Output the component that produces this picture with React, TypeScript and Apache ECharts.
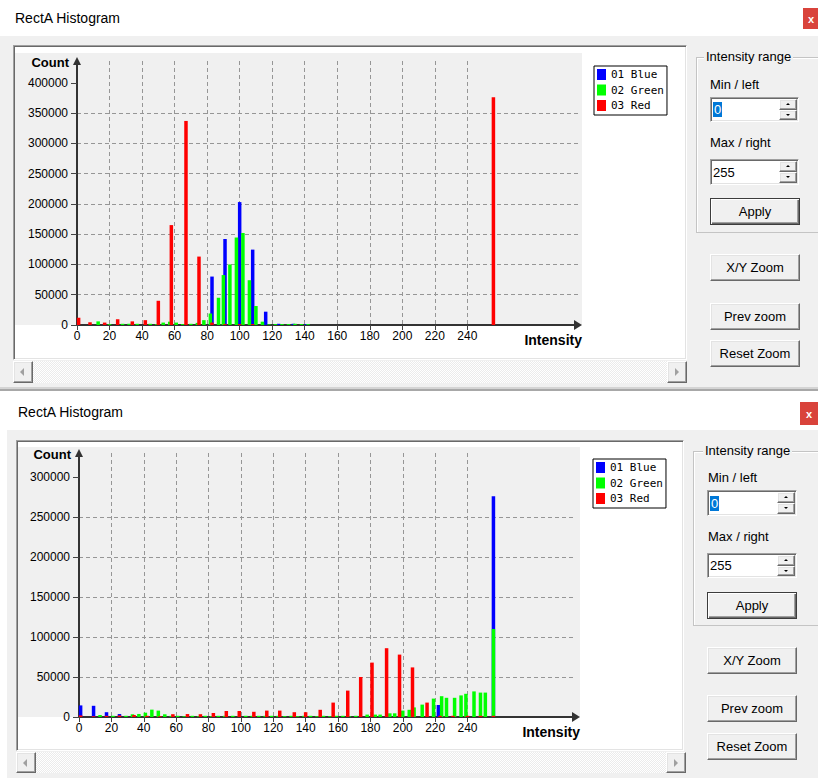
import React, { useEffect, useRef } from "react";
import * as echarts from "echarts";

// ---------------- data ----------------
const intensityTicks = [0, 20, 40, 60, 80, 100, 120, 140, 160, 180, 200, 220, 240];
const countTicksUpper = [0, 50000, 100000, 150000, 200000, 250000, 300000, 350000, 400000];
const countTicksLower = [0, 50000, 100000, 150000, 200000, 250000, 300000];
const channelNames = ["01 Blue", "02 Green", "03 Red"];
const channelColors = ["#0000ff", "#00ff00", "#ff0000"];
const windowTitle = "RectA Histogram";
const xAxisTitle = "Intensity";
const yAxisTitle = "Count";

// upper histogram: [intensity, count]
const upperBlue = [[83, 80000], [91, 142000], [100, 203000], [108, 124500], [116, 22000], [124, 2000], [133, 2000], [141, 1500]];
const upperGreen = [[13, 6000], [20, 1500], [28, 2000], [32, 2000], [37, 2000], [45, 2000], [49, 1500], [53, 4000], [57, 5500], [61, 4000], [65, 1500], [70, 2000], [74, 3500], [78, 8000], [82, 19000], [87, 45000], [90, 82500], [94, 100000], [98, 144500], [102, 152000], [106, 74000], [110, 31500], [114, 5500], [118, 1000], [122, 1500], [126, 1500], [130, 1500], [134, 2000], [138, 1500], [142, 1500]];
const upperRed = [[1, 12000], [8, 4500], [17, 4000], [25, 9500], [34, 6000], [42, 8000], [50, 40000], [58, 165000], [67, 337000], [75, 113000], [83, 4000], [91, 1500], [100, 1500], [108, 1500], [256, 376000]];

// lower histogram
const lowerBlue = [[1, 14500], [9, 14000], [17, 6000], [25, 3700], [222, 15000], [256, 276000]];
const lowerGreen = [[13, 2500], [21, 1500], [29, 1500], [33, 3400], [37, 3800], [41, 5400], [45, 9200], [49, 8000], [53, 3400], [57, 1500], [61, 1500], [65, 1000], [70, 1500], [74, 1000], [78, 1500], [82, 1000], [86, 1500], [90, 1500], [95, 1500], [99, 1000], [103, 1500], [107, 1500], [111, 1500], [115, 1500], [119, 1500], [123, 1500], [127, 1000], [131, 1500], [135, 1000], [139, 1500], [143, 1500], [147, 1000], [151, 1500], [155, 1000], [159, 1500], [163, 1500], [167, 1000], [171, 1500], [178, 3000], [183, 3000], [186, 3000], [192, 4600], [195, 4600], [200, 8000], [204, 9000], [207, 12000], [212, 15500], [219, 23000], [224, 26000], [227, 24000], [232, 24000], [236, 27000], [239, 29000], [244, 32000], [248, 30500], [251, 30500], [256, 110000]];
const lowerRed = [[1, 2000], [9, 1000], [17, 1500], [25, 2000], [34, 2500], [42, 1500], [50, 1000], [58, 3500], [67, 3700], [75, 3500], [83, 5000], [91, 7500], [99, 7500], [108, 6500], [116, 8000], [124, 8000], [133, 6000], [140, 6000], [149, 9000], [157, 18000], [166, 33000], [174, 50000], [181, 68000], [190, 86000], [198, 78000], [206, 62000], [215, 18000], [223, 1500], [231, 1500], [240, 1500], [248, 1500], [256, 1500]];

// UI texts
const groupTitle = "Intensity range";
const minLabel = "Min / left";
const maxLabel = "Max / right";
const minValue = "0";
const maxValue = "255";
const buttonLabels = ["Apply", "X/Y Zoom", "Prev zoom", "Reset Zoom"];

// ---------------- layout ----------------
const uiFont = "'Liberation Sans', Arial, sans-serif";

const upperWin = {
  top: 0, left: 0, bodyTop: 36, bottom: 387,
  titleX: 15, titleCy: 18,
  close: { x: 803, y: 8, w: 16, h: 21 },
  frame: { x: 13, y: 45, w: 674, h: 315 },
  plot: { x: 15, y: 53, w: 567, h: 272 },
  scroll: { x: 13, y: 361, w: 674, h: 22 },
  group: { x: 696, y: 57, w: 140, h: 176, titleX: 706 },
  minLabel: { x: 710, cy: 85 },
  minEdit: { x: 710, y: 97, w: 89, h: 25 },
  maxLabel: { x: 710, cy: 143 },
  maxEdit: { x: 710, y: 159, w: 89, h: 26 },
  buttons: [
    { x: 710, y: 198, w: 90, h: 27 },
    { x: 710, y: 254, w: 90, h: 27 },
    { x: 710, y: 303, w: 90, h: 27 },
    { x: 710, y: 340, w: 90, h: 27 },
  ],
};
const lowerWin = {
  top: 393, left: 7, bodyTop: 430, bottom: 778,
  titleX: 18, titleCy: 412,
  close: { x: 800, y: 402, w: 18, h: 23 },
  frame: { x: 16, y: 440, w: 668, h: 311 },
  plot: { x: 18, y: 447, w: 562, h: 270 },
  scroll: { x: 16, y: 752, w: 670, h: 21 },
  group: { x: 693, y: 451, w: 140, h: 175, titleX: 705 },
  minLabel: { x: 708, cy: 478 },
  minEdit: { x: 707, y: 490, w: 90, h: 26 },
  maxLabel: { x: 708, cy: 537 },
  maxEdit: { x: 707, y: 553, w: 90, h: 25 },
  buttons: [
    { x: 707, y: 592, w: 90, h: 27 },
    { x: 707, y: 647, w: 90, h: 27 },
    { x: 707, y: 695, w: 90, h: 27 },
    { x: 707, y: 733, w: 90, h: 27 },
  ],
};

const abs = (l: number, t: number, w: number | string, h: number | string, extra: any = {}): any => ({
  position: "absolute", left: l, top: t, width: w, height: h, boxSizing: "border-box", ...extra,
});

const raised = {
  background: "#f0f0f0",
  borderTop: "1px solid #ffffff", borderLeft: "1px solid #ffffff",
  borderRight: "1px solid #696969", borderBottom: "1px solid #696969",
  boxShadow: "inset -1px -1px 0 #a0a0a0, inset 1px 1px 0 #e3e3e3",
};
const sunken = {
  background: "#ffffff",
  borderTop: "1px solid #a0a0a0", borderLeft: "1px solid #a0a0a0",
  borderRight: "1px solid #ffffff", borderBottom: "1px solid #ffffff",
  boxShadow: "inset 1px 1px 0 #696969, inset -1px -1px 0 #e3e3e3",
};

function Tri({ dir, color, size }: { dir: string; color: string; size: number }) {
  const s: any = { position: "absolute", left: "50%", top: "50%", width: 0, height: 0 };
  if (dir === "up") Object.assign(s, { marginLeft: -size, marginTop: -size / 2 - 0.5, borderLeft: `${size}px solid transparent`, borderRight: `${size}px solid transparent`, borderBottom: `${size}px solid ${color}` });
  if (dir === "down") Object.assign(s, { marginLeft: -size, marginTop: -size / 2, borderLeft: `${size}px solid transparent`, borderRight: `${size}px solid transparent`, borderTop: `${size}px solid ${color}` });
  if (dir === "left") Object.assign(s, { marginLeft: -size / 2 - 1, marginTop: -size, borderTop: `${size}px solid transparent`, borderBottom: `${size}px solid transparent`, borderRight: `${size}px solid ${color}` });
  if (dir === "right") Object.assign(s, { marginLeft: -size / 2, marginTop: -size, borderTop: `${size}px solid transparent`, borderBottom: `${size}px solid transparent`, borderLeft: `${size}px solid ${color}` });
  return <div style={s} />;
}

function Btn({ b, label, isDefault }: any) {
  const style = isDefault
    ? { background: "#f0f0f0", border: "1px solid #3c3c3c", boxShadow: "inset 1px 1px 0 #ffffff, inset -1px -1px 0 #696969, inset -2px -2px 0 #a0a0a0" }
    : raised;
  return (
    <div style={{ ...abs(b.x, b.y, b.w, b.h), ...style, display: "flex", alignItems: "center", justifyContent: "center", fontSize: 13, color: "#000" }}>
      {label}
    </div>
  );
}

function Spin({ e, value, selected }: any) {
  return (
    <div style={{ ...abs(e.x, e.y, e.w, e.h), ...sunken }}>
      <div style={{ position: "absolute", left: 2, top: 0, bottom: 0, display: "flex", alignItems: "center", fontSize: 13, color: "#000" }}>
        {selected ? <span style={{ background: "#0078d7", color: "#fff", padding: "0 1px", lineHeight: "15px" }}>{value}</span> : value}
      </div>
      <div style={{ position: "absolute", right: 1, top: 1, bottom: 1, width: 18 }}>
        <div style={{ ...abs(0, 0, 18, "50%"), ...raised }}><Tri dir="up" color="#000" size={2.5} /></div>
        <div style={{ ...abs(0, "50%" as any, 18, "50%"), ...raised }}><Tri dir="down" color="#000" size={2.5} /></div>
      </div>
    </div>
  );
}

function Win({ c }: { c: any }) {
  return (
    <>
      <div style={abs(c.left, c.top, 818 - c.left, c.bodyTop - c.top, { background: "#ffffff" })} />
      <div style={abs(c.titleX, c.titleCy - 9, 200, 18, { fontSize: 14, lineHeight: "18px", color: "#000" })}>{windowTitle}</div>
      <div style={abs(c.close.x, c.close.y, c.close.w, c.close.h, { background: "#d9433b", color: "#fff", fontSize: 11, fontWeight: "bold", display: "flex", alignItems: "center", justifyContent: "center" })}>x</div>
      <div style={abs(c.left, c.bodyTop, 818 - c.left, c.bottom - c.bodyTop, { background: "#f0f0f0" })} />
      <div style={{ ...abs(c.frame.x, c.frame.y, c.frame.w, c.frame.h), ...sunken }} />
      <div style={abs(c.plot.x, c.plot.y, c.plot.w, c.plot.h, { background: "#f0f0f0" })} />
      <div style={abs(c.scroll.x, c.scroll.y, c.scroll.w, c.scroll.h, { background: "repeating-conic-gradient(#ebebeb 0% 25%, #ffffff 0% 50%) 0 0 / 2px 2px" })} />
      <div style={{ ...abs(c.scroll.x, c.scroll.y, 20, c.scroll.h), ...raised }}><Tri dir="left" color="#a0a0a0" size={4} /></div>
      <div style={{ ...abs(c.scroll.x + c.scroll.w - 20, c.scroll.y, 20, c.scroll.h), ...raised }}><Tri dir="right" color="#a0a0a0" size={4} /></div>
      <div style={abs(c.group.x, c.group.y, c.group.w, c.group.h, { border: "1px solid #c4c4c4", boxShadow: "inset 1px 1px 0 #ffffff" })} />
      <div style={{ position: "absolute", left: c.group.titleX - 2, top: c.group.y - 8, height: 16, lineHeight: "16px", padding: "0 2px", background: "#f0f0f0", fontSize: 13, color: "#000" }}>{groupTitle}</div>
      <div style={{ position: "absolute", left: c.minLabel.x, top: c.minLabel.cy - 8, lineHeight: "16px", fontSize: 13, color: "#000" }}>{minLabel}</div>
      <Spin e={c.minEdit} value={minValue} selected />
      <div style={{ position: "absolute", left: c.maxLabel.x, top: c.maxLabel.cy - 8, lineHeight: "16px", fontSize: 13, color: "#000" }}>{maxLabel}</div>
      <Spin e={c.maxEdit} value={maxValue} />
      {c.buttons.map((b: any, i: number) => (
        <Btn key={i} b={b} label={buttonLabels[i]} isDefault={i === 0} />
      ))}
    </>
  );
}

// ---------------- chart option ----------------
const gridLine = { color: "#969696", width: 1, type: [4, 3] };
const plainNumber = (v: number) => String(v);

function xAxisFor(gridIndex: number, max: number) {
  return {
    type: "value", gridIndex, min: 0, max, interval: 20,
    axisLine: { show: true, onZero: false, symbol: ["none", "triangle"], symbolSize: [10, 8], lineStyle: { color: "#333", width: 2 } },
    axisTick: { show: true, length: 5, customValues: intensityTicks, lineStyle: { color: "#444", width: 1 } },
    axisLabel: { customValues: intensityTicks, formatter: plainNumber, fontFamily: uiFont, fontSize: 12, color: "#000", margin: 5 },
    splitLine: { show: true, showMinLine: false, lineStyle: gridLine },
    name: xAxisTitle, nameLocation: "end", nameGap: 4,
    nameTextStyle: { fontFamily: uiFont, fontSize: 14, fontWeight: "bold", color: "#000", align: "right", verticalAlign: "top", padding: [8, 0, 0, 0] },
  };
}

function yAxisFor(gridIndex: number, max: number, ticks: number[]) {
  return {
    type: "value", gridIndex, min: 0, max, interval: 50000,
    axisLine: { show: true, onZero: false, symbol: ["none", "triangle"], symbolSize: [8, 8], lineStyle: { color: "#333", width: 2 } },
    axisTick: { show: true, length: 6, customValues: ticks, lineStyle: { color: "#444", width: 1 } },
    axisLabel: { customValues: ticks, formatter: plainNumber, fontFamily: uiFont, fontSize: 12, color: "#000", margin: 9 },
    splitLine: { show: true, showMinLine: false, showMaxLine: false, lineStyle: gridLine },
    name: yAxisTitle, nameLocation: "end", nameGap: -1,
    nameTextStyle: { fontFamily: uiFont, fontSize: 13, fontWeight: "bold", color: "#000", align: "right", verticalAlign: "middle", padding: [0, 8, 0, 0] },
  };
}

function barSeries(name: string, color: string, data: number[][], idx: number) {
  return {
    type: "bar", name, data, xAxisIndex: idx, yAxisIndex: idx,
    barWidth: 3.5, barGap: "-100%", silent: true,
    itemStyle: { color },
  };
}

const legendBase = {
  orient: "vertical", data: channelNames, icon: "rect",
  itemWidth: 9, itemHeight: 11, itemGap: 4.5,
  padding: [3, 3, 4, 3], borderColor: "#000", borderWidth: 1, backgroundColor: "#fff",
  selectedMode: false,
  textStyle: { fontFamily: "'DejaVu Sans Mono', monospace", fontSize: 11, color: "#000" },
};

const option: any = {
  animation: false,
  grid: [
    { left: 77, top: 61, width: 501, height: 264 },
    { left: 79, top: 453, width: 497, height: 264 },
  ],
  xAxis: [xAxisFor(0, 308), xAxisFor(1, 307)],
  yAxis: [yAxisFor(0, 436000, countTicksUpper), yAxisFor(1, 330000, countTicksLower)],
  legend: [
    { ...legendBase, left: 594, top: 66 },
    { ...legendBase, left: 593, top: 459 },
  ],
  series: [
    barSeries(channelNames[0], channelColors[0], upperBlue, 0),
    barSeries(channelNames[1], channelColors[1], upperGreen, 0),
    barSeries(channelNames[2], channelColors[2], upperRed, 0),
    barSeries(channelNames[0], channelColors[0], lowerBlue, 1),
    barSeries(channelNames[1], channelColors[1], lowerGreen, 1),
    barSeries(channelNames[2], channelColors[2], lowerRed, 1),
  ],
};

export default function App() {
  const ref = useRef<HTMLDivElement>(null);
  useEffect(() => {
    const chart = echarts.init(ref.current as HTMLDivElement, null, { renderer: "svg" });
    chart.setOption(option);
    return () => chart.dispose();
  }, []);
  return (
    <div style={{ position: "absolute", left: 0, top: 0, width: 818, height: 778, overflow: "hidden", background: "#ffffff", fontFamily: uiFont }}>
      <Win c={upperWin} />
      <div style={abs(0, 387, 818, 2, { background: "#d4d4d4" })} />
      <div style={abs(0, 389, 818, 2, { background: "#a8a8a8" })} />
      <div style={abs(7, 393, 1, 385, { background: "#6e9fd8" })} />
      <Win c={lowerWin} />
      <div ref={ref} style={{ position: "absolute", left: 0, top: 0, width: 818, height: 778, pointerEvents: "none" }} />
    </div>
  );
}
